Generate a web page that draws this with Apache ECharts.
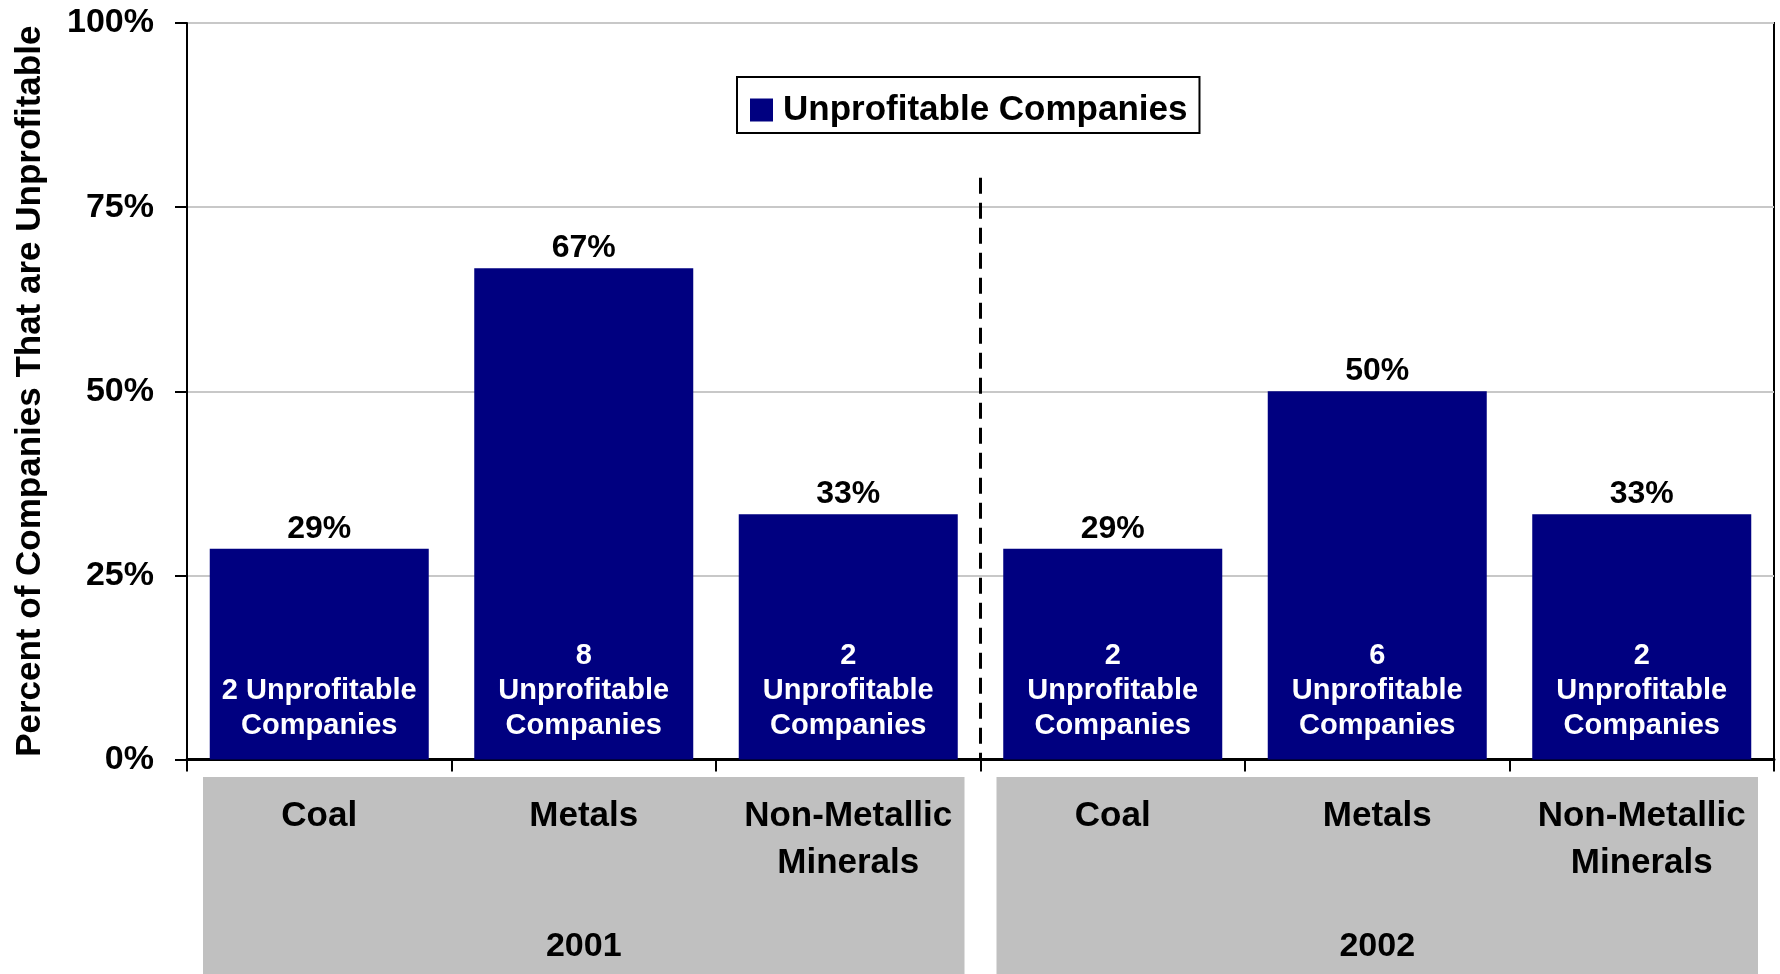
<!DOCTYPE html>
<html>
<head>
<meta charset="utf-8">
<title>Unprofitable Companies by Sector, 2001–2002</title>
<script src="https://cdn.jsdelivr.net/npm/echarts@6/dist/echarts.min.js"></script>
<style>
  html, body { margin: 0; padding: 0; background: #ffffff; }
  #chart { width: 1780px; height: 974px; }
</style>
</head>
<body>
<div id="chart"></div>
<script>
// Sector categories, grouped by year (three sectors per year)
const categories = ['Coal', 'Metals', 'Non-Metallic\nMinerals', 'Coal', 'Metals', 'Non-Metallic\nMinerals'];
const years = ['2001', '2002'];
// Percent of companies in each sector that were unprofitable
const pctUnprofitable = [28.6, 66.7, 33.3, 28.6, 50.0, 33.3];
// Count of unprofitable companies, written inside each bar
const countLabels = [
  '2 Unprofitable\nCompanies',
  '8\nUnprofitable\nCompanies',
  '2\nUnprofitable\nCompanies',
  '2\nUnprofitable\nCompanies',
  '6\nUnprofitable\nCompanies',
  '2\nUnprofitable\nCompanies'
];
// Dashed divider between the two years: position on a 0..6 category scale, top value in %
const dividerAt = 3;
const dividerTop = 79;

const FONT = "'Liberation Sans', Arial, Helvetica, sans-serif";
const NAVY = '#000080';
const GREY = '#c0c0c0';

const chart = echarts.init(document.getElementById('chart'), null, { renderer: 'canvas' });

const option = {
  backgroundColor: '#ffffff',
  animation: false,
  textStyle: { fontFamily: FONT },
  grid: {
    left: 187, right: 6, top: 23, bottom: 214.5,
    containLabel: false,
    outerBoundsMode: 'none',
    show: true, borderColor: '#000000', borderWidth: 2, backgroundColor: 'transparent'
  },
  legend: {
    data: ['Unprofitable Companies'],
    left: 737, top: 77,
    orient: 'horizontal',
    padding: [15, 12, 5, 13],
    borderColor: '#000000', borderWidth: 2,
    backgroundColor: '#ffffff',
    icon: 'rect', itemWidth: 23, itemHeight: 23,
    selectedMode: false,
    textStyle: { fontFamily: FONT, fontSize: 35, fontWeight: 'bold', color: '#000000', padding: [0, 0, 0, 5], lineHeight: 36 }
  },
  xAxis: [
    {
      type: 'category',
      data: categories,
      position: 'bottom',
      boundaryGap: true,
      axisLine: { show: true, lineStyle: { color: '#000000', width: 3 } },
      axisTick: { show: true, length: 12, lineStyle: { color: '#000000', width: 2 } },
      axisLabel: {
        interval: 0, margin: 33,
        fontFamily: FONT, fontSize: 35, fontWeight: 'bold', color: '#000000', lineHeight: 47
      },
      splitLine: { show: false }
    },
    {
      type: 'category',
      data: years,
      position: 'bottom',
      offset: 0,
      boundaryGap: true,
      axisLine: { show: false },
      axisTick: { show: false },
      axisLabel: {
        interval: 0, margin: 167,
        fontFamily: FONT, fontSize: 34, fontWeight: 'bold', color: '#000000', lineHeight: 40
      },
      splitLine: { show: false },
      z: 5
    },
    {
      // Hidden linear scale spanning the six category slots, used for the divider and panels
      type: 'value', min: 0, max: 6, show: false
    }
  ],
  yAxis: {
    type: 'value',
    min: 0, max: 100, interval: 25,
    name: 'Percent of Companies That are Unprofitable',
    nameLocation: 'middle',
    nameRotate: 90,
    nameGap: 139,
    nameMoveOverlap: false,
    nameTextStyle: { fontFamily: FONT, fontSize: 35, fontWeight: 'bold', color: '#000000' },
    axisLine: { show: true, lineStyle: { color: '#000000', width: 2 } },
    axisTick: { show: true, length: 12, lineStyle: { color: '#000000', width: 2 } },
    axisLabel: {
      formatter: '{value}%', margin: 33,
      fontFamily: FONT, fontSize: 34, fontWeight: 'bold', color: '#000000'
    },
    splitLine: { show: true, lineStyle: { color: '#c8c8c8', width: 2 } }
  },
  series: [
    {
      name: 'Unprofitable Companies',
      type: 'bar',
      xAxisIndex: 0,
      data: pctUnprofitable,
      barWidth: '82.8%',
      barGap: '-100%',
      itemStyle: { color: NAVY },
      label: {
        show: true, position: 'top', distance: 4,
        formatter: p => Math.round(p.value) + '%',
        fontFamily: FONT, fontSize: 32, fontWeight: 'bold', color: '#000000'
      },
      z: 2
    },
    {
      name: 'counts',
      type: 'bar',
      xAxisIndex: 0,
      data: pctUnprofitable,
      barWidth: '82.8%',
      barGap: '-100%',
      silent: true,
      itemStyle: { color: 'rgba(0,0,0,0)' },
      label: {
        show: true, position: 'insideBottom', distance: 16,
        formatter: p => countLabels[p.dataIndex],
        fontFamily: FONT, fontSize: 29, fontWeight: 'bold', color: '#ffffff', lineHeight: 35, align: 'center'
      },
      z: 3
    },
    {
      name: 'divider',
      type: 'line',
      xAxisIndex: 2,
      data: [],
      symbol: 'none',
      silent: true,
      markLine: {
        silent: true,
        symbol: ['none', 'none'],
        label: { show: false },
        lineStyle: { color: '#000000', width: 3, type: [16, 9] },
        data: [[{ coord: [dividerAt, dividerTop] }, { coord: [dividerAt, 0] }]]
      },
      z: 4
    }
  ]
};

chart.setOption(option);

// Grey panels behind each year's sector labels, sized from the axis scale
function drawPanels() {
  const inset = 16;
  const axisY = chart.convertToPixel({ yAxisIndex: 0 }, 0);
  const top = axisY + 17.5;
  const height = 974 - top + 10;
  const spans = [[0, dividerAt], [dividerAt, 6]];
  const elements = spans.map(([a, b]) => {
    const x0 = chart.convertToPixel({ xAxisIndex: 2 }, a) + inset;
    const x1 = chart.convertToPixel({ xAxisIndex: 2 }, b) - inset;
    return {
      type: 'rect',
      z: -10,
      silent: true,
      shape: { x: x0, y: top, width: x1 - x0, height: height },
      style: { fill: GREY }
    };
  });
  chart.setOption({ graphic: { elements: elements } });
}
drawPanels();
</script>
</body>
</html>
